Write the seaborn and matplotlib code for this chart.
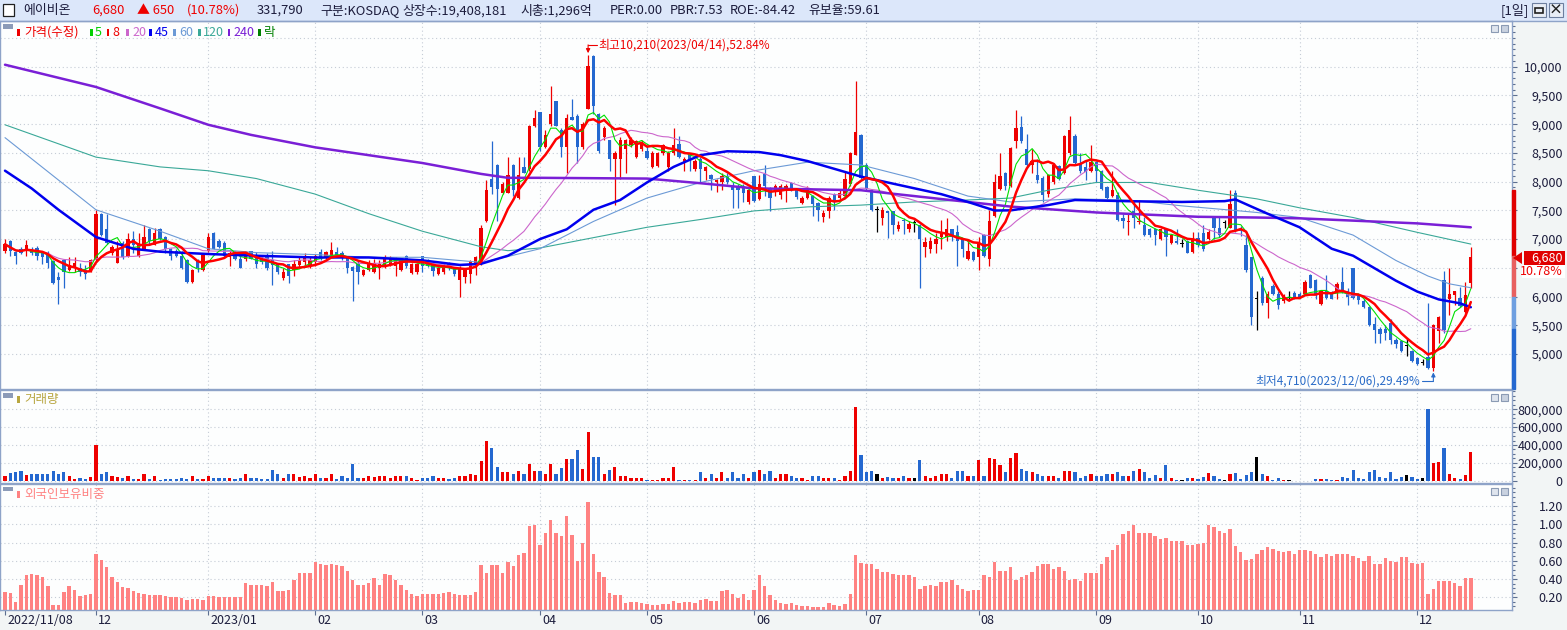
#!/usr/bin/env python3
import matplotlib
matplotlib.use('Agg')
import matplotlib.pyplot as plt
import matplotlib.transforms as mtransforms
from matplotlib.lines import Line2D
from matplotlib.patches import Rectangle, Polygon
import numpy as np
import pandas as pd
import seaborn as sns

#
#   Data (daily, 2022/11/08 .. 2023/12/15, KRX trading days)
#
holidays = ['2022-12-30', '2023-01-23', '2023-01-24', '2023-03-01', '2023-05-01',
            '2023-05-05', '2023-05-29', '2023-06-06', '2023-08-15', '2023-09-28',
            '2023-09-29', '2023-10-02', '2023-10-03', '2023-10-09']
dates = pd.bdate_range('2022-11-08', '2023-12-15')
dates = dates[~dates.isin(pd.to_datetime(holidays))]

open_ = [
  6800, 6970, 6780, 6830, 6800, 6830, 6850, 6760, 6760, 6610,
  6340, 6640, 6460, 6490, 6490, 6460, 6440, 6630, 7440, 7170,
  6760, 6590, 6930, 6700, 7000, 6700, 6830, 7170, 6900, 7170,
  7030, 6830, 6800, 6700, 6630, 6260, 6630, 6460, 6800, 7100,
  6970, 6930, 6680, 6780, 6660, 6660, 6790, 6730, 6660, 6730,
  6630, 6560, 6320, 6560, 6460, 6550, 6600, 6530, 6600, 6780,
  6690, 6730, 6770, 6760, 6700, 6510, 6570, 6370, 6460, 6420,
  6490, 6530, 6560, 6540, 6460, 6700, 6410, 6420, 6700, 6630,
  6560, 6390, 6420, 6570, 6490, 6290, 6340, 6390, 6560, 6560,
  7310, 8040, 8290, 7810, 7810, 8290, 7710, 8260, 8220, 8970,
  9210, 8600, 9000, 9400, 8900, 8600, 9120, 9140, 8600, 9270,
  10190, 9170, 8770, 8720, 8390, 8390, 8560, 8630, 8430, 8560,
  8530, 8260, 8270, 8490, 8260, 8490, 8660, 8340, 8460, 8220,
  8390, 8190, 8120, 7990, 7990, 8090, 7920, 7930, 7900, 7650,
  8090, 7700, 8130, 7880, 7820, 7770, 7840, 7970, 7850, 7630,
  7710, 7750, 7630, 7390, 7480, 7780, 7710, 7750, 7950, 8470,
  8810, 8290, 7850, 7510, 7370, 7480, 7480, 7170, 7340, 7170,
  7290, 7250, 6870, 6830, 6910, 7030, 7030, 7170, 7120, 7000,
  6660, 6780, 6680, 7070, 6660, 7410, 7880, 8150, 7920, 8700,
  8950, 8560, 8290, 8110, 8070, 7780, 7990, 8270, 8150, 8490,
  8800, 8330, 8260, 8190, 8340, 8190, 7900, 7750, 7770, 7360,
  7290, 7480, 7290, 7240, 7170, 7170, 7000, 7170, 6930, 6970,
  6930, 6970, 6780, 7020, 7100, 7000, 7370, 7200, 7290, 7200,
  7810, 7170, 6900, 6680, 5970, 6320, 5880, 6190, 6050, 5920,
  5980, 6070, 6050, 6050, 6370, 6290, 5870, 6090, 6070, 6090,
  6250, 6090, 6490, 6020, 5920, 5810, 5520, 5440, 5440, 5540,
  5240, 5220, 5140, 5050, 4930, 4860, 4950, 4760, 5400, 6290,
  5960, 6020, 5980, 5730, 6230]
close = [
  6910, 6800, 6700, 6760, 6900, 6760, 6710, 6680, 6590, 6230,
  6290, 6420, 6550, 6590, 6420, 6390, 6630, 7440, 7070, 6930,
  6860, 6830, 6680, 7000, 6900, 6930, 7030, 6970, 7100, 7000,
  6830, 6700, 6700, 6490, 6260, 6460, 6490, 6730, 7030, 6830,
  6870, 6700, 6760, 6660, 6490, 6770, 6660, 6560, 6600, 6490,
  6550, 6420, 6420, 6360, 6560, 6630, 6680, 6630, 6700, 6660,
  6770, 6810, 6700, 6690, 6490, 6450, 6420, 6460, 6570, 6590,
  6570, 6680, 6660, 6640, 6630, 6530, 6560, 6560, 6530, 6530,
  6440, 6490, 6550, 6490, 6390, 6490, 6460, 6610, 6680, 7200,
  7850, 7900, 7880, 7950, 8120, 7850, 8120, 8150, 8970, 9100,
  8600, 8810, 9170, 8970, 8600, 9100, 9080, 8600, 9000, 10020,
  9310, 8530, 8930, 8390, 8490, 8730, 8730, 8730, 8700, 8690,
  8410, 8490, 8490, 8630, 8500, 8630, 8430, 8390, 8360, 8360,
  8220, 8260, 8040, 8020, 8090, 7990, 7850, 7850, 7810, 7850,
  7660, 7950, 7920, 7710, 7920, 7930, 7930, 7850, 7730, 7710,
  7850, 7610, 7510, 7460, 7710, 7650, 7810, 8050, 8490, 8870,
  8070, 7880, 7510, 7510, 7500, 7450, 7240, 7250, 7310, 7270,
  7290, 7000, 6950, 6970, 7000, 7100, 7170, 7030, 6970, 6830,
  6800, 6640, 6930, 6700, 7320, 7990, 8090, 7920, 8590, 8930,
  8700, 8290, 8360, 8020, 7770, 8120, 8290, 8050, 8800, 8900,
  8330, 8190, 8160, 8340, 8180, 7870, 7710, 7850, 7340, 7310,
  7320, 7360, 7320, 7070, 7070, 7070, 7170, 7040, 7070, 6930,
  6930, 6760, 7000, 6900, 6830, 7120, 7200, 7070, 7290, 7610,
  7140, 7140, 6460, 5640, 5970, 5880, 6050, 6050, 5850, 6020,
  5980, 5980, 5980, 6260, 6150, 6050, 6090, 5980, 5960, 6220,
  6090, 6000, 5980, 5940, 5810, 5510, 5410, 5340, 5370, 5240,
  5170, 5050, 5140, 4880, 4830, 4860, 4760, 5500, 5640, 5410,
  6050, 6090, 5830, 6030, 6680]
high = [
  7000, 6980, 6790, 6860, 6980, 6870, 6880, 6790, 6800, 6640,
  6430, 6660, 6680, 6680, 6590, 6550, 6660, 7510, 7450, 7440,
  6900, 6960, 6970, 7100, 7140, 7100, 7240, 7200, 7200, 7200,
  7050, 6850, 6830, 6800, 6660, 6480, 6660, 6760, 7100, 7120,
  7000, 6970, 6800, 6790, 6700, 6780, 6800, 6780, 6700, 6760,
  6800, 6590, 6490, 6570, 6630, 6700, 6760, 6680, 6740, 6820,
  6800, 6950, 6870, 6800, 6710, 6530, 6630, 6480, 6630, 6660,
  6630, 6730, 6700, 6680, 6650, 6720, 6580, 6580, 6710, 6660,
  6590, 6510, 6560, 6600, 6500, 6530, 6490, 6640, 6710, 7240,
  8020, 8700, 8310, 7990, 8430, 8300, 8430, 8430, 8990, 9240,
  9220, 8900, 9670, 9410, 8930, 9170, 9440, 9170, 9040, 10210,
  10200, 9200, 8970, 8730, 8530, 8770, 8740, 8770, 8730, 8730,
  8630, 8530, 8510, 8660, 8530, 8930, 8800, 8430, 8490, 8390,
  8430, 8270, 8140, 8050, 8150, 8150, 7990, 7950, 7950, 7880,
  8100, 8120, 8290, 7900, 7950, 7950, 7950, 7990, 7870, 7750,
  7920, 7770, 7650, 7500, 7750, 7800, 7850, 8180, 8510, 9750,
  8830, 8320, 7870, 7580, 7560, 7480, 7490, 7310, 7360, 7320,
  7340, 7270, 7030, 7030, 7100, 7340, 7370, 7180, 7250, 7020,
  6970, 6800, 7030, 7090, 7510, 8130, 8490, 8170, 8600, 9240,
  9140, 8830, 8560, 8390, 8090, 8130, 8330, 8290, 8810, 9140,
  8820, 8500, 8380, 8630, 8360, 8200, 7920, 8190, 7820, 7440,
  7440, 7680, 7680, 7380, 7190, 7200, 7200, 7180, 7080, 7170,
  7000, 6980, 7120, 7120, 7250, 7170, 7410, 7410, 7340, 7860,
  7850, 7220, 7070, 6690, 6090, 6360, 6090, 6220, 6090, 6050,
  6090, 6090, 6080, 6290, 6390, 6300, 6100, 6370, 6100, 6250,
  6520, 6150, 6500, 6050, 5950, 5830, 5640, 5470, 5510, 5610,
  5270, 5240, 5270, 5070, 4950, 4920, 5890, 5520, 5660, 6440,
  6490, 6100, 6160, 6250, 6870]
low = [
  6760, 6700, 6560, 6740, 6700, 6730, 6630, 6570, 6490, 6210,
  5870, 6150, 6440, 6420, 6360, 6300, 6420, 6620, 7050, 6910,
  6720, 6590, 6660, 6680, 6760, 6680, 6820, 6900, 6890, 6990,
  6760, 6630, 6680, 6480, 6240, 6240, 6420, 6440, 6780, 6820,
  6850, 6680, 6530, 6630, 6490, 6610, 6650, 6490, 6560, 6460,
  6200, 6400, 6290, 6230, 6360, 6490, 6550, 6500, 6530, 6640,
  6660, 6720, 6680, 6630, 6410, 5920, 6220, 6350, 6440, 6410,
  6300, 6490, 6540, 6360, 6440, 6500, 6390, 6400, 6420, 6510,
  6360, 6370, 6400, 6470, 6360, 6000, 6230, 6230, 6370, 6550,
  7290, 7780, 7310, 7780, 7800, 7750, 7700, 8150, 8190, 8950,
  8530, 8580, 8970, 8970, 8430, 8150, 9070, 8320, 8560, 9260,
  9170, 8500, 8730, 8190, 7590, 8050, 8150, 8600, 8410, 8530,
  8390, 8240, 8250, 8460, 8180, 8460, 8410, 8180, 8190, 8180,
  7990, 8020, 7850, 7820, 7850, 7950, 7540, 7540, 7650, 7610,
  7650, 7680, 7750, 7480, 7750, 7700, 7640, 7830, 7700, 7610,
  7690, 7410, 7310, 7290, 7370, 7510, 7690, 7730, 7930, 8460,
  8040, 7850, 7490, 7120, 7240, 7020, 7090, 7140, 7090, 7120,
  7120, 6150, 6680, 6760, 6750, 6830, 6970, 6970, 6530, 6680,
  6630, 6610, 6460, 6690, 6530, 7390, 7860, 7850, 7900, 8590,
  8680, 8270, 8150, 7980, 7650, 7730, 7950, 8020, 8140, 8470,
  8300, 8150, 8020, 8160, 7990, 7850, 7700, 7730, 7310, 7200,
  7070, 7200, 7270, 7050, 7030, 6890, 6980, 6700, 6910, 6910,
  6870, 6750, 6760, 6860, 6800, 6980, 7000, 7040, 7190, 7190,
  7120, 7050, 6420, 5510, 5420, 5850, 5620, 6020, 5780, 5880,
  5920, 5960, 5970, 6040, 6140, 5950, 5850, 5960, 5950, 5950,
  6070, 5850, 5960, 5870, 5800, 5490, 5190, 5200, 5240, 5170,
  5100, 5030, 4970, 4860, 4810, 4800, 4740, 4710, 5200, 5370,
  5680, 5850, 5810, 5710, 6150]
# volume, thousand shares
volume_k = [
  57, 87, 92, 105, 61, 70, 74, 79, 79, 114, 79, 96, 57, 22, 35, 22, 44, 398, 79, 96,
  57, 39, 35, 52, 22, 17, 70, 22, 52, 9, 22, 22, 22, 35, 22, 52, 17, 17, 52, 35,
  26, 26, 35, 22, 26, 70, 35, 30,
  22, 22, 118, 70, 26, 70, 79, 39, 48, 26, 79, 35, 26, 79, 17, 48, 35, 188, 35, 26,
  57, 39, 57, 52, 26, 57, 48, 57, 26, 9, 35, 26, 48, 30, 30, 17, 35, 52, 52, 70,
  61, 223, 450, 363, 157, 96, 96,
  79, 105, 79, 188, 109, 114, 79, 184, 79, 144, 245, 245, 341, 135, 546, 262, 271, 79, 122, 157,
  48, 48, 35, 35, 35, 13, 13, 13, 35, 35, 149, 13, 13, 9, 4, 92, 35, 79, 35, 100,
  35, 100, 35, 70, 26,
  96, 122, 79, 105, 35, 79, 79, 52, 26, 26, 13, 57, 57, 35, 35, 26, 13, 57, 114, 820,
  284, 92, 105, 70, 30, 44, 35, 35, 48, 30, 26, 227, 52, 35, 57, 79, 79, 35, 114, 114,
  57, 57, 227, 57, 249, 240, 179, 100, 254,
  306, 131, 114, 96, 79, 57, 52, 52, 35, 114, 114, 100, 35, 52, 79, 48, 57, 79, 79, 96,
  57, 57, 105, 131, 96, 35, 66, 26, 175, 26, 13, 4, 26, 35, 22,
  37, 85, 52, 18, 7, 74, 85, 18, 63, 96, 262, 74, 52, 7, 30, 3, 7, 2, 2, 2,
  2, 18, 18, 18, 8, 8, 37, 30, 118, 30, 18, 103, 118, 37, 30, 92, 18, 37, 63, 37,
  18, 30, 800, 200, 215, 370, 70, 30, 20, 60, 320]
# foreign ownership ratio (%)
foreign = [
  0.26, 0.25, 0.15, 0.34, 0.44, 0.46, 0.44, 0.42, 0.32, 0.12, 0.12, 0.26, 0.32, 0.28, 0.21, 0.23,
  0.24, 0.68, 0.61, 0.53, 0.42, 0.37, 0.31, 0.30, 0.27, 0.25, 0.24, 0.23, 0.22, 0.22, 0.21, 0.20,
  0.20, 0.19, 0.17, 0.18, 0.18, 0.17, 0.21, 0.21, 0.20, 0.20, 0.20, 0.20, 0.20, 0.36, 0.34, 0.34,
  0.34, 0.32, 0.37, 0.27, 0.27, 0.28, 0.39, 0.47, 0.47, 0.47, 0.59, 0.57, 0.55, 0.57, 0.55, 0.54,
  0.49, 0.39, 0.34, 0.34, 0.36, 0.41, 0.34, 0.46, 0.45, 0.39, 0.34, 0.28, 0.24, 0.21, 0.24, 0.24,
  0.24, 0.24, 0.25, 0.26, 0.24, 0.22, 0.22, 0.23, 0.26, 0.55, 0.47, 0.55, 0.55, 0.47, 0.59,
  0.54, 0.66, 0.69, 0.98, 0.99, 0.77, 0.90, 1.05, 0.90, 0.87, 1.09, 0.88, 0.60, 0.80, 1.24, 0.68,
  0.48, 0.42, 0.25, 0.22, 0.22, 0.14, 0.15, 0.15, 0.14, 0.13, 0.12, 0.12, 0.13, 0.13, 0.16, 0.14,
  0.15, 0.15, 0.14, 0.17, 0.18, 0.16, 0.16, 0.27, 0.28, 0.24, 0.19, 0.24, 0.17,
  0.28, 0.44, 0.32, 0.23, 0.17, 0.14, 0.13, 0.14, 0.12, 0.11, 0.10, 0.09, 0.09, 0.09, 0.14, 0.12,
  0.11, 0.13, 0.24, 0.66, 0.58, 0.56, 0.56, 0.51, 0.48, 0.48, 0.46, 0.44, 0.44, 0.44, 0.42, 0.29,
  0.32, 0.34, 0.32, 0.37, 0.37, 0.39, 0.34, 0.29, 0.27, 0.28, 0.28, 0.44, 0.42, 0.59, 0.49, 0.49,
  0.53,
  0.39, 0.42, 0.45, 0.48, 0.54, 0.57, 0.57, 0.51, 0.53, 0.49, 0.39, 0.40, 0.38, 0.47, 0.47, 0.47,
  0.57, 0.64, 0.72, 0.77, 0.89, 0.93, 0.99, 0.90, 0.90, 0.90, 0.87, 0.84, 0.85, 0.82, 0.82, 0.82,
  0.77, 0.77, 0.78,
  0.80, 0.99, 0.97, 0.93, 0.91, 0.95, 0.76, 0.70, 0.61, 0.62, 0.68, 0.72, 0.75, 0.73, 0.71, 0.70,
  0.71, 0.68, 0.72, 0.72, 0.71, 0.68, 0.64, 0.68, 0.65, 0.68, 0.68, 0.67, 0.65, 0.63, 0.60, 0.65,
  0.57, 0.57, 0.63, 0.60, 0.59, 0.64, 0.64, 0.58, 0.56, 0.58, 0.24, 0.29, 0.38, 0.38, 0.38, 0.36,
  0.32, 0.41, 0.41]

# long moving averages (their history starts before the window)
ma45_day = [0, 5, 10, 17, 24, 29, 38, 47, 58, 68, 78, 85, 89, 94, 100, 105, 110, 115, 120, 125,
            130, 135, 141, 145, 150, 155, 160, 165, 170, 175, 180, 185, 188, 195, 200, 210, 220,
            228, 230, 233, 236, 242, 248, 252, 256, 260, 264, 268, 272, 274]
ma45_val = [8190, 7880, 7510, 7035, 6830, 6780, 6740, 6710, 6680, 6680, 6630, 6550, 6570, 6710,
            7000, 7170, 7510, 7680, 7985, 8257, 8460, 8528, 8514, 8460, 8358, 8223, 8087, 7985,
            7883, 7782, 7646, 7497, 7500, 7592, 7680, 7659, 7646, 7660, 7690, 7565, 7442, 7205,
            6832, 6710, 6493, 6276, 6086, 5950, 5882, 5814]
ma60_day = [0, 17, 29, 38, 47, 58, 68, 78, 89, 94, 100, 110, 120, 130, 140, 150, 160, 170, 180,
            188, 200, 210, 220, 230, 234, 242, 252, 260, 266, 270, 274]
ma60_val = [8765, 7510, 7137, 6832, 6764, 6730, 6683, 6683, 6595, 6696, 6832, 7307, 7714, 7985,
            8189, 8338, 8290, 8053, 7748, 7646, 7700, 7680, 7578, 7497, 7463, 7375, 7069, 6628,
            6357, 6221, 6153]
ma120_day = [0, 17, 29, 38, 47, 58, 68, 78, 89, 94, 100, 120, 130, 140, 150, 160, 170, 180, 188,
             195, 204, 214, 223, 234, 242, 252, 264, 274]
ma120_val = [8989, 8426, 8256, 8189, 8053, 7782, 7442, 7137, 6866, 6798, 6845, 7205, 7341, 7490,
             7560, 7591, 7646, 7680, 7714, 7850, 7985, 7985, 7850, 7700, 7544, 7375, 7117, 6913]
ma240_day = [0, 17, 29, 38, 46, 58, 68, 78, 89, 94, 100, 120, 130, 140, 160, 180, 188, 204, 223,
             234, 242, 264, 274]
ma240_val = [10034, 9647, 9274, 8989, 8813, 8596, 8460, 8324, 8134, 8066, 8066, 8053, 7972, 7883,
             7850, 7646, 7565, 7463, 7388, 7375, 7361, 7273, 7205]

#
#   Style
#
sns.set_style('white')
plt.rcParams['font.family'] = ['Noto Sans CJK KR', 'DejaVu Sans']
plt.rcParams['axes.unicode_minus'] = False

RED = '#ee0000'
BLUE = '#2468d0'
PINK = '#ff8282'
EDGE = '#8ea3c8'
TXT = '#1c1c3c'
W, H = 1567, 630

def fx(x):
  return x / W

def fy(y):
  return 1 - y / H

idx = np.arange(len(dates))
o = np.array(open_, float)
c = np.array(close, float)
hi = np.array(high, float)
lo = np.array(low, float)
vol = np.array(volume_k, float) * 1000
direction = np.where(c > o, 'up', np.where(c < o, 'down', 'flat'))
palette = {'up': RED, 'down': BLUE, 'flat': 'black'}
colors = [palette[d] for d in direction]

month_idx = [0] + [i for i in range(1, len(dates)) if dates[i].month != dates[i - 1].month]
month_lab = []
for m in month_idx:
  d = dates[m]
  if m == 0:
    month_lab.append(d.strftime('%Y/%m/%d'))
  elif d.month == 1:
    month_lab.append(d.strftime('%Y/%m'))
  else:
    month_lab.append(d.strftime('%m'))

fig = plt.figure(figsize=(W / 100, H / 100), dpi=100)
fig.patch.set_facecolor('#f2f5f5')

ax_p = fig.add_axes([0, fy(389), 1512 / W, (389 - 21) / H])
ax_v = fig.add_axes([0, fy(482.7), 1512 / W, (482.7 - 390) / H])
ax_f = fig.add_axes([0, fy(610), 1512 / W, (610 - 483.5) / H])

def setup(ax, ylim, major, minor, fmt, hide=()):
  ax.set_facecolor('#fdfefe')
  ax.set_xlim(-0.935, 281.7)
  ax.set_ylim(*ylim)
  ax.yaxis.tick_right()
  ax.set_yticks(major)
  ax.set_yticks(minor, minor=True)
  ax.set_yticklabels(['' if v in hide else fmt(v) for v in major])
  ax.tick_params(axis='y', which='major', length=3.6, width=0.8, color='#5d6f90',
                 pad=33, labelsize=9, labelcolor=TXT)
  ax.tick_params(axis='y', which='minor', length=2.2, width=0.8, color='#5d6f90')
  for lab in ax.get_yticklabels():
    lab.set_horizontalalignment('right')
  ax.set_xticks(month_idx)
  ax.tick_params(axis='x', length=0, labelbottom=False)
  ax.set_xlabel('')
  ax.set_ylabel('')
  for v in major:
    ax.axhline(v, color='#c5ccd6', lw=0.8, ls=(0, (1, 2.5)), zorder=0.5)
  for m in month_idx[1:]:
    ax.axvline(m, color='#c5ccd6', lw=0.8, ls=(0, (1, 2.5)), zorder=0.5)
  for s in ax.spines.values():
    s.set_color(EDGE)
    s.set_linewidth(1)

#
#  Price panel: candles + moving averages
#
ax_p.vlines(idx, lo, hi, colors=colors, lw=0.9, zorder=2)
body_h = np.maximum(np.abs(c - o), 18)
body_b = np.where(c == o, c - 9, np.minimum(o, c))
ax_p.bar(idx, body_h, bottom=body_b, width=0.62, color=colors, lw=0, zorder=2.5)

cs = pd.Series(c)
ma5 = cs.rolling(5, min_periods=1).mean()
ma8 = cs.rolling(8, min_periods=1).mean()
ma20 = cs.rolling(20, min_periods=1).mean()

sns.lineplot(x=ma120_day, y=ma120_val, ax=ax_p, color='#3aa898', linewidth=0.8, zorder=3)
sns.lineplot(x=ma60_day, y=ma60_val, ax=ax_p, color='#6c9ad6', linewidth=0.8, zorder=3)
sns.lineplot(x=idx, y=ma20, ax=ax_p, color='#cc66cc', linewidth=0.8, zorder=3)
sns.lineplot(x=idx, y=ma5, ax=ax_p, color='#00e000', linewidth=0.8, zorder=3)
sns.lineplot(x=ma240_day, y=ma240_val, ax=ax_p, color='#7a1fd6', linewidth=1.8, zorder=3.2)
sns.lineplot(x=ma45_day, y=ma45_val, ax=ax_p, color='#0000ee', linewidth=1.8, zorder=3.3)
sns.lineplot(x=idx, y=ma8, ax=ax_p, color='#ff0000', linewidth=1.8, zorder=3.4)

setup(ax_p, (4391, 10795), list(range(5000, 10001, 500)), list(range(4400, 10701, 100)),
      lambda v: f'{v:,}', hide=(6500,))
ax_p.axhline(10500, color='#c5ccd6', lw=0.8, ls=(0, (1, 2.5)), zorder=0.5)

# max / min annotations
ax_p.text(110.9, 10378, '최고10,210(2023/04/14),52.84%', color=RED, fontsize=8.5,
          va='center', ha='left', zorder=5)
ax_p.plot([110.7, 109], [10378, 10378], color=RED, lw=0.8, zorder=5)
ax_p.annotate('', xy=(109, 10235), xytext=(109, 10380),
              arrowprops=dict(arrowstyle='-|>', color=RED, lw=0.8, mutation_scale=6,
                              shrinkA=0, shrinkB=0), zorder=5)
ax_p.text(264.6, 4535, '최저4,710(2023/12/06),29.49%', color='#2a6cc8', fontsize=8.5,
          va='center', ha='right', zorder=5)
ax_p.plot([264.8, 267], [4535, 4535], color='#2a6cc8', lw=0.8, zorder=5)
ax_p.annotate('', xy=(267, 4680), xytext=(267, 4533),
              arrowprops=dict(arrowstyle='-|>', color='#2a6cc8', lw=0.8, mutation_scale=6,
                              shrinkA=0, shrinkB=0), zorder=5)

# range bar on the right edge of the price axis
trans = mtransforms.blended_transform_factory(ax_p.transAxes, ax_p.transData)
for y0, y1, col in [(6700, 7850, '#e00000'), (6000, 6700, '#e86060'),
                    (5430, 6000, '#6f9fe0'), (4391, 5430, '#2468d0')]:
  ax_p.add_patch(Rectangle((1.0, y0), 3 / 1512, y1 - y0, transform=trans, color=col,
                           clip_on=False, zorder=6))

#
#  Volume panel
#
vol_df = pd.DataFrame({'i': idx, 'vol': vol, 'dir': direction})
sns.barplot(data=vol_df, x='i', y='vol', hue='dir', palette=palette, native_scale=True,
            dodge=False, width=0.6, saturation=1, errorbar=None, legend=False, linewidth=0,
            ax=ax_v)
setup(ax_v, (-22400, 1016000), [0, 200000, 400000, 600000, 800000],
      list(range(0, 1000001, 50000)), lambda v: f'{v:,}')

#
#  Foreign ownership panel
#
sns.barplot(x=idx, y=foreign, color=PINK, native_scale=True, width=0.64, saturation=1,
            errorbar=None, linewidth=0, ax=ax_f)
setup(ax_f, (0.061, 1.448), [0.2, 0.4, 0.6, 0.8, 1.0, 1.2],
      list(np.arange(0.1, 1.41, 0.05)), lambda v: f'{v:.2f}')
ax_f.tick_params(axis='x', length=3.6, width=0.8, color='#5d6f90', bottom=True, direction='out')
for m, lab in zip(month_idx, month_lab):
  fig.text(fx(5 + 5.35 * m + 2), fy(621), lab, fontsize=9, color=TXT, va='center', ha='left')

#
#  Header bar
#
fig.add_artist(Rectangle((0, fy(20.5)), 1, 20.5 / H, transform=fig.transFigure,
                         facecolor='#dce7fa', edgecolor='none', zorder=0))
fig.add_artist(Line2D([0, 1], [fy(20.5), fy(20.5)], transform=fig.transFigure, color=EDGE, lw=1))

def box(x0, y0, x1, y1, **kw):
  fig.add_artist(Rectangle((fx(x0), fy(y1)), fx(x1) - fx(x0), fy(y0) - fy(y1),
                           transform=fig.transFigure, **kw))

box(3, 4, 14, 16, facecolor='white', edgecolor='#202020', lw=0.9)
head = [(23, '에이비온', TXT), (92, '6,680', RED), (137, '▲ 650', RED),
        (187, '(10.78%)', RED), (257, '331,790', TXT), (320, '구분:KOSDAQ', TXT),
        (402, '상장수:19,408,181', TXT), (520, '시총:1,296억', TXT),
        (610, 'PER:0.00', TXT), (670, 'PBR:7.53', TXT), (730, 'ROE:-84.42', TXT),
        (808, '유보율:59.61', TXT)]
for x0, t, col in head:
  fig.text(fx(x0), fy(10.5), t, fontsize=9.3, color=col, va='center', ha='left')
fig.text(fx(1529), fy(10.5), '[1일]', fontsize=9.5, color=TXT, va='center', ha='right')
for x0 in (1532, 1549):
  box(x0, 3, x0 + 14, 17, facecolor='#e8edf5', edgecolor='#6d7f9f', lw=0.8)
fig.add_artist(Rectangle((fx(1535), fy(13)), fx(8), 5 / H, transform=fig.transFigure,
                         facecolor='none', edgecolor='#202020', lw=1.2))
fig.text(fx(1556), fy(10.5), '×', fontsize=10, color='#202020', va='center', ha='center',
         fontweight='bold')

# panel buttons and icons
for top in (21, 390, 483.5):
  box(3, top + 3, 13, top + 7.5, facecolor='#8c9bb8', edgecolor='none')
  box(1491, top + 4, 1498, top + 11, facecolor='#dfe5ee', edgecolor='#8b9bb4', lw=0.8)
  box(1501, top + 4, 1508, top + 11, facecolor='#c9d2e0', edgecolor='#8b9bb4', lw=0.8)

# legends
def legend_item(xm, x0, y, text, col):
  box(xm - 1, y - 3.5, xm + 1.5, y + 3.5, facecolor=col, edgecolor='none')
  fig.text(fx(x0), fy(y), text, fontsize=9, color=col, va='center', ha='left')

for xm, x0, t, col in [(18, 24, '가격(수정)', RED), (91, 95, '5', '#00d000'),
                       (108, 112, '8', RED), (127, 132, '20', '#cc66cc'),
                       (150, 155, '45', '#0000ee'), (174, 179, '60', '#6c9ad6'),
                       (199, 203, '120', '#3aa898'), (229, 233, '240', '#7a1fd6'),
                       (259, 264, '락', '#008000')]:
  legend_item(xm, x0, 32.3, t, col)
legend_item(18, 24, 399.5, '거래량', '#b8a640')
legend_item(18, 24, 494.5, '외국인보유비중', PINK)

# last price marker
box(1524, 251, 1565, 265, facecolor='#e00000', edgecolor='none')
fig.add_artist(Polygon([(fx(1513), fy(258)), (fx(1522), fy(252)), (fx(1522), fy(264))],
                       closed=True, transform=fig.transFigure, facecolor='#e00000',
                       edgecolor='none'))
fig.text(fx(1563), fy(258), '6,680', fontsize=9, color='white', va='center', ha='right')
box(1522, 265, 1565, 278, facecolor='white', edgecolor='none')
fig.text(fx(1563), fy(271.5), '10.78%', fontsize=9, color=RED, va='center', ha='right')

plt.savefig('out.png', dpi=100)
